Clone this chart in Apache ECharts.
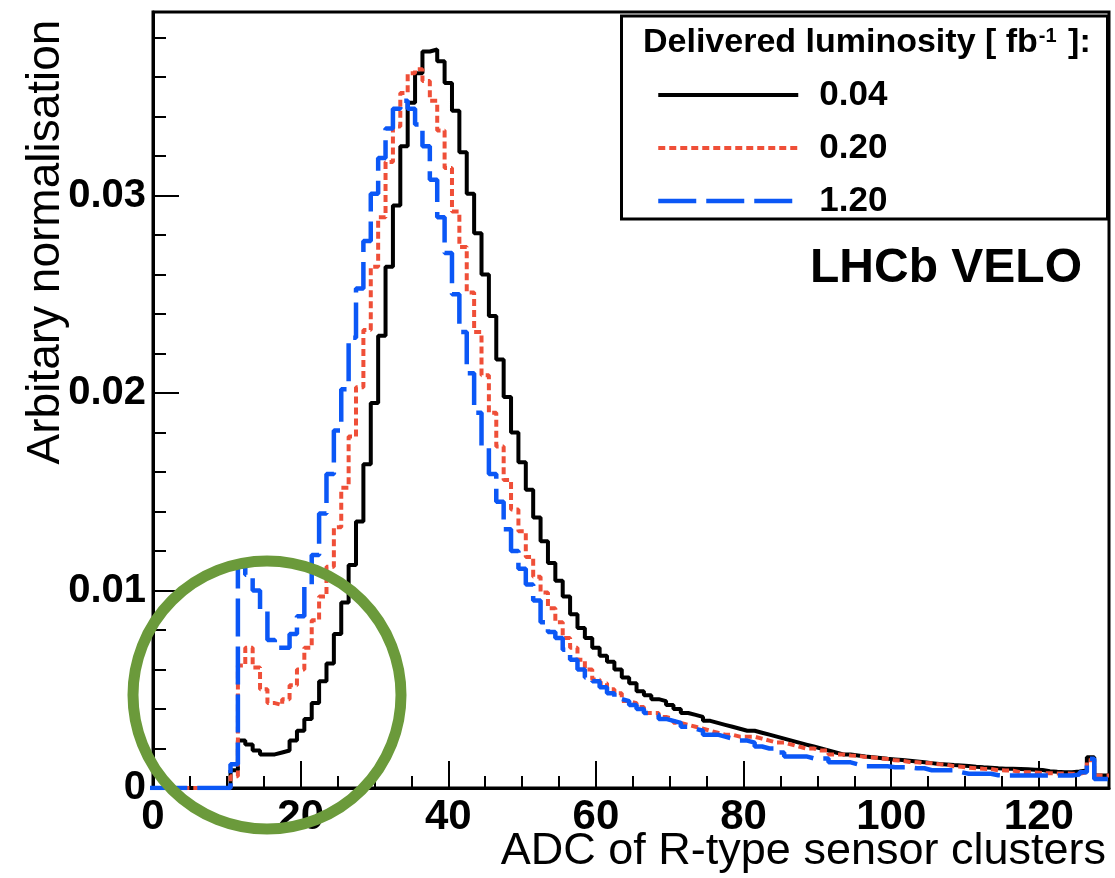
<!DOCTYPE html>
<html>
<head>
<meta charset="utf-8">
<script src="https://cdn.jsdelivr.net/npm/echarts@6/dist/echarts.min.js"></script>
<style>
html,body{margin:0;padding:0;background:#fff;}
#chart{width:1115px;height:878px;}
</style>
</head>
<body>
<div id="chart"></div>
<script>
// ADC bin centres (bin width 1)
const adcBins = [
  0,1,2,3,4,5,6,7,8,9,10,11,12,13,14,15,16,17,18,19,
  20,21,22,23,24,25,26,27,28,29,30,31,32,33,34,35,36,37,38,39,
  40,41,42,43,44,45,46,47,48,49,50,51,52,53,54,55,56,57,58,59,
  60,61,62,63,64,65,66,67,68,69,70,71,72,73,74,75,76,77,78,79,
  80,81,82,83,84,85,86,87,88,89,90,91,92,93,94,95,96,97,98,99,
  100,101,102,103,104,105,106,107,108,109,110,111,112,113,114,115,116,117,118,119,
  120,121,122,123,124,125,126,127,128,129
];

const seriesNames = ['0.04', '0.20', '1.20'];

// Delivered luminosity 0.04 fb^-1
const lumi004 = [
  0,0,0,0,0,0,0,0,0,0,0,
  0.0009,0.0024,0.0022,0.0019,0.0017,0.0017,0.0018,0.0019,0.0024,
  0.0029,0.0035,0.0043,0.0054,0.0063,0.0078,0.0094,0.0113,0.0135,0.0164,
  0.0195,0.0229,0.0264,0.0295,0.0325,0.0347,0.0362,0.0373,0.0374,0.0368,
  0.0357,0.0343,0.0322,0.0301,0.0281,0.0260,0.0239,0.0217,0.0198,0.0180,
  0.0165,0.0151,0.0137,0.0125,0.0114,0.0105,0.0097,0.0088,0.0081,0.0076,
  0.0071,0.0067,0.0064,0.0060,0.0056,0.0053,0.0049,0.0047,0.0045,0.0044,
  0.0042,0.0040,0.0038,0.0037,0.0036,0.0034,0.0033,0.0032,0.0031,0.0030,
  0.0029,0.0029,0.0028,0.0027,0.0026,0.0025,0.0024,0.0023,0.0022,0.0021,
  0.0020,0.0019,0.0018,0.0017,0.0017,0.00165,0.0016,0.00156,0.00152,0.00148,
  0.00145,0.00142,0.00138,0.00134,0.0013,0.00126,0.00122,0.00119,0.00116,0.00114,
  0.00112,0.00108,0.00105,0.00103,0.001,0.00098,0.00097,0.00096,0.00095,0.00093,
  0.00091,0.00085,0.00082,0.0008,0.0008,0.00084,0.00089,0.00156,0.00063,0.00063
];

// Delivered luminosity 0.20 fb^-1
const lumi020 = [
  0,0,0,0,0,0,0,0,0,0,0,
  0.0006,0.0062,0.0071,0.0061,0.0050,0.0043,0.0042,0.0045,0.0052,
  0.0060,0.0071,0.0085,0.0097,0.0112,0.0132,0.0152,0.0178,0.0203,0.0232,
  0.0264,0.0289,0.0317,0.0335,0.0352,0.0362,0.0364,0.0358,0.0348,0.0333,
  0.0314,0.0292,0.0274,0.0251,0.0231,0.0209,0.0190,0.0173,0.0156,0.0141,
  0.0130,0.0117,0.0107,0.0099,0.0091,0.0084,0.0076,0.0071,0.0065,0.0060,
  0.0055,0.0053,0.0050,0.0048,0.0044,0.0043,0.0041,0.0038,0.0038,0.0036,
  0.0035,0.0033,0.0032,0.0031,0.0030,0.0029,0.0028,0.0027,0.0027,0.0026,
  0.0026,0.0026,0.0025,0.0024,0.0023,0.0023,0.0022,0.0021,0.0020,0.0020,
  0.0019,0.0019,0.0017,0.0017,0.00165,0.00163,0.00157,0.00155,0.0015,0.00147,
  0.0014,0.00138,0.00132,0.0013,0.00127,0.00125,0.0012,0.00118,0.0011,0.00108,
  0.00103,0.001,0.00097,0.00096,0.0009,0.00089,0.00088,0.0008,0.0008,0.00079,
  0.00075,0.00075,0.00074,0.00074,0.00072,0.00072,0.0008,0.0014,0.00063,0.00063
];

// Delivered luminosity 1.20 fb^-1
const lumi120 = [
  0,0,0,0,0,0,0,0,0,0,0,
  0.0012,0.0112,0.0108,0.0100,0.0090,0.0075,0.0071,0.0071,0.0078,
  0.0087,0.0102,0.0118,0.0139,0.0159,0.0181,0.0202,0.0228,0.0253,0.0277,
  0.0301,0.0319,0.0334,0.0344,0.0348,0.0344,0.0336,0.0325,0.0308,0.0289,
  0.0271,0.0250,0.0231,0.0210,0.0190,0.0173,0.0159,0.0145,0.0131,0.0120,
  0.0111,0.0103,0.0095,0.0084,0.0079,0.0076,0.0070,0.0065,0.0060,0.0056,
  0.0054,0.0051,0.0048,0.0045,0.0044,0.0042,0.0040,0.0038,0.0037,0.0035,
  0.0034,0.0033,0.0031,0.0030,0.0029,0.0027,0.0027,0.0026,0.0025,0.0024,
  0.0024,0.0023,0.0021,0.0020,0.0020,0.0018,0.0016,0.0016,0.0016,0.0015,
  0.0015,0.0015,0.0013,0.0013,0.0013,0.0012,0.0011,0.0011,0.0011,0.0011,
  0.00105,0.00105,0.00105,0.001,0.001,0.0009,0.0009,0.0009,0.0009,0.0008,
  0.00072,0.00072,0.00072,0.00072,0.00065,0.00063,0.00063,0.00063,0.00063,0.00063,
  0.00063,0.00063,0.00063,0.00063,0.00063,0.00068,0.0008,0.00148,0.00046,0.00046
];

const xTickLabels = [0, 20, 40, 60, 80, 100, 120];
const yTickLabels = [0, 0.01, 0.02, 0.03];

const FONT = '"Liberation Sans", Arial, Helvetica, sans-serif';

// histogram outline: each bin drawn from its lower to its upper edge
function toSteps(values) {
  const pts = [];
  values.forEach(function (v, i) {
    const c = adcBins[i];
    pts.push([c - 0.5, v]);
    pts.push([c + 0.5, v]);
  });
  return pts;
}

const X_MIN = 0, X_MAX = 129.5, Y_MIN = 0, Y_MAX = 0.0393;

function xMajorLabel(v) {
  return xTickLabels.indexOf(Math.round(v)) >= 0 && Math.abs(v - Math.round(v)) < 1e-6 ? String(Math.round(v)) : '';
}
function yMajorLabel(v) {
  for (let i = 0; i < yTickLabels.length; i++) {
    if (Math.abs(v - yTickLabels[i]) < 1e-9) return yTickLabels[i] === 0 ? '0' : yTickLabels[i].toFixed(2);
  }
  return '';
}

const chart = echarts.init(document.getElementById('chart'), null, { renderer: 'canvas' });

const lineStyles = [
  { color: '#000000', width: 4, type: 'solid' },
  { color: '#ef4f38', width: 4, type: [7, 4], cap: 'butt' },
  { color: '#0b57f6', width: 4.5, type: [38, 10], cap: 'butt' }
];
const valueSets = [lumi004, lumi020, lumi120];

const option = {
  animation: false,
  backgroundColor: '#ffffff',
  grid: {
    left: 153, right: 6, top: 12, bottom: 90,
    show: true, borderColor: '#000', borderWidth: 3, backgroundColor: 'transparent',
    containLabel: false
  },
  xAxis: [
    {
      type: 'value', min: X_MIN, max: X_MAX, interval: 20, position: 'bottom',
      axisLine: { show: true, onZero: false, lineStyle: { color: '#000', width: 3 } },
      axisTick: { show: true, inside: true, length: 27, lineStyle: { color: '#000', width: 2 } },
      axisLabel: {
        show: true, margin: 8, color: '#000', fontFamily: FONT, fontSize: 42, fontWeight: 'bold',
        formatter: xMajorLabel, showMaxLabel: false
      },
      splitLine: { show: false }
    },
    {
      type: 'value', min: X_MIN, max: X_MAX, interval: 5, position: 'bottom', offset: 0,
      axisLine: { show: false, onZero: false },
      axisTick: { show: true, inside: true, length: 12, lineStyle: { color: '#000', width: 2 } },
      axisLabel: { show: false },
      splitLine: { show: false }
    }
  ],
  yAxis: [
    {
      type: 'value', min: Y_MIN, max: Y_MAX, interval: 0.01, position: 'left',
      axisLine: { show: true, onZero: false, lineStyle: { color: '#000', width: 3 } },
      axisTick: { show: true, inside: true, length: 26, lineStyle: { color: '#000', width: 2 } },
      axisLabel: {
        show: true, margin: 7, color: '#000', fontFamily: FONT, fontSize: 40, fontWeight: 'bold',
        formatter: yMajorLabel, showMaxLabel: false
      },
      splitLine: { show: false }
    },
    {
      type: 'value', min: Y_MIN, max: Y_MAX, interval: 0.002, position: 'left', offset: 0,
      axisLine: { show: false, onZero: false },
      axisTick: { show: true, inside: true, length: 13, lineStyle: { color: '#000', width: 2 } },
      axisLabel: { show: false },
      splitLine: { show: false }
    }
  ],
  legend: {
    orient: 'vertical', left: 651, top: 72,
    itemWidth: 140, itemHeight: 36, itemGap: 17,
    selectedMode: false,
    itemStyle: { color: 'rgba(0,0,0,0)', borderColor: 'rgba(0,0,0,0)', borderWidth: 0, opacity: 0 },
    data: seriesNames.map(function (name, i) {
      return {
        name: name,
        lineStyle: { color: lineStyles[i].color, width: lineStyles[i].width, type: lineStyles[i].type },
        itemStyle: { color: 'rgba(0,0,0,0)', borderColor: 'rgba(0,0,0,0)', borderWidth: 0, opacity: 0 }
      };
    }),
    textStyle: {
      fontFamily: FONT, fontSize: 35, fontWeight: 'bold', color: '#000',
      padding: [0, 0, 0, 16], lineHeight: 36
    }
  },
  series: seriesNames.map(function (name, i) {
    return {
      name: name, type: 'line', xAxisIndex: 0, yAxisIndex: 0,
      data: toSteps(valueSets[i]),
      showSymbol: false, symbol: 'none', clip: true, silent: true,
      lineStyle: lineStyles[i], itemStyle: { color: lineStyles[i].color },
      z: 3 + i
    };
  }),
  graphic: [
    {
      type: 'rect', z: 50,
      shape: { x: 621.5, y: 16, width: 486, height: 203 },
      style: { fill: 'rgba(0,0,0,0)', stroke: '#000', lineWidth: 3 }
    },
    {
      type: 'text', z: 51, x: 643, y: 43,
      style: {
        text: '{a|Delivered luminosity [ fb}{s|-1}{a| ]:}',
        verticalAlign: 'middle', align: 'left', fill: '#000',
        rich: {
          a: { fontFamily: FONT, fontSize: 34, fontWeight: 'bold', fill: '#000' },
          s: { fontFamily: FONT, fontSize: 20, fontWeight: 'bold', fill: '#000', verticalAlign: 'top', padding: [0, 2, 10, 1] }
        }
      }
    },
    {
      type: 'text', z: 51, x: 810, y: 269,
      style: { text: 'LHCb VELO', font: 'bold 48px ' + FONT, fill: '#000', align: 'left', verticalAlign: 'middle' }
    },
    {
      type: 'text', z: 51, x: 1106, y: 852,
      style: { text: 'ADC of R-type sensor clusters', font: '45px ' + FONT, fill: '#000', align: 'right', verticalAlign: 'middle' }
    },
    {
      type: 'text', z: 51, x: 46, y: 242, rotation: Math.PI / 2,
      style: { text: 'Arbitary normalisation', font: '46px ' + FONT, fill: '#000', align: 'center', verticalAlign: 'middle' }
    },
    {
      type: 'circle', z: 60,
      shape: { cx: 267, cy: 695, r: 134 },
      style: { fill: 'rgba(0,0,0,0)', stroke: '#6b9a3b', lineWidth: 11 }
    }
  ]
};

chart.setOption(option);
</script>
</body>
</html>
